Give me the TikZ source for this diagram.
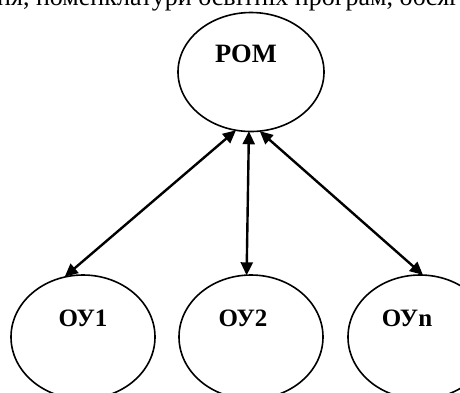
\documentclass[tikz,border=0pt]{standalone}
\usepackage{fontspec}
\setmainfont{Liberation Serif}
\usetikzlibrary{shapes.geometric,arrows.meta}
\tikzset{
  oval/.style={draw, ellipse, line width=1.6pt, inner sep=0pt, minimum width=144pt, minimum height=124pt},
  lbl/.style={font=\fontsize{25}{28}\selectfont\bfseries, inner sep=0pt},
  link/.style={line width=2.4pt, {Triangle[length=13pt,width=12pt]}-{Triangle[length=13pt,width=12pt]}, shorten <=-1pt, shorten >=-1pt}
}
\begin{document}
\begin{tikzpicture}[x=1pt,y=-1pt]
\useasboundingbox (0,0) rectangle (460,392);
\clip (0,0) rectangle (460,392);
\node[anchor=base west, inner sep=0pt, font=\fontsize{26}{30}\selectfont] (top) at (-3,5) {ня, номенклатури освітніх програм, обсяг};
\node[oval, minimum width=146pt, minimum height=119pt] (pom) at (251,72) {};
\node[oval] (ou1) at (83,337) {};
\node[oval] (ou2) at (251,337) {};
\node[oval] (oun) at (420,337) {};
\node[lbl, font=\fontsize{26.5}{30}\selectfont\bfseries] (tpom) at (246,54) {РОМ};
\node[lbl] (tou1) at (83,318) {ОУ1};
\node[lbl] (tou2) at (243,318) {ОУ2};
\node[lbl] (toun) at (407,318) {ОУn};
\draw[link] (pom.-105) -- (ou1.106);
\draw[link] (pom.-92) -- (ou2.94);
\draw[link] (pom.-81) -- (oun.88);
\end{tikzpicture}
\end{document}
